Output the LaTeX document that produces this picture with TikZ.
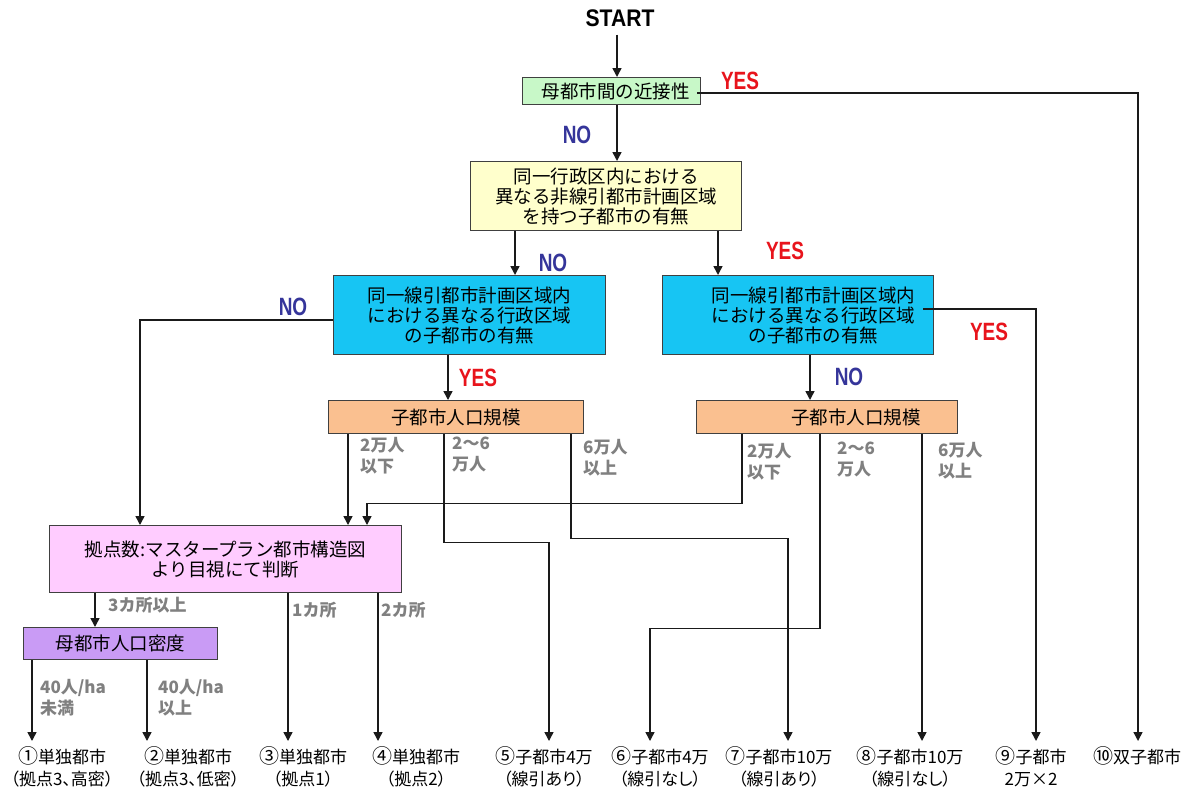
\documentclass[tikz,border=0pt]{standalone}
\usepackage{fontspec}
\usetikzlibrary{arrows.meta,calc}
\newfontfamily\jp{Noto Sans CJK JP}
\newfontfamily\jpp{Noto Sans CJK JP}[RawFeature=+palt]
\newfontfamily\cond{Liberation Sans}[FakeStretch=0.76]
\newfontfamily\startf{Liberation Sans}[FakeStretch=0.88]
\newcommand\circnum[1]{{\fontsize{20}{22}\selectfont #1}}
\definecolor{cgreen}{HTML}{C8F8C8}
\definecolor{cyellow}{HTML}{FFFFCC}
\definecolor{ccyan}{HTML}{17C5F3}
\definecolor{corange}{HTML}{FAC090}
\definecolor{cpink}{HTML}{FFCCFF}
\definecolor{cpurple}{HTML}{C99BF5}
\definecolor{boxline}{HTML}{404040}
\definecolor{lineblack}{HTML}{1A1A1A}
\definecolor{cred}{HTML}{E8141C}
\definecolor{cblue}{HTML}{35359A}
\definecolor{cgray}{HTML}{808080}
\begin{document}
\begin{tikzpicture}[x=1pt,y=-1pt,
  box/.style={draw=boxline, line width=1.3pt, anchor=north west, inner sep=0pt, align=center,
    font=\jp\fontsize{18.5}{20}\selectfont},
  arr/.style={draw=lineblack, line width=1.5pt, -{Triangle[width=9pt,length=9pt]}},
  yeslab/.style={font=\cond\bfseries\fontsize{25}{25}\selectfont, text=cred, inner sep=0pt},
  nolab/.style={font=\cond\bfseries\fontsize{25}{25}\selectfont, text=cblue, inner sep=0pt},
  gl/.style={font=\jp\bfseries\fontsize{17}{21}\selectfont, text=cgray, align=left, anchor=north west, inner sep=0pt},
  res/.style={font=\jpp\fontsize{17}{22}\selectfont, align=center, anchor=north, inner sep=0pt},
  startlab/.style={font=\startf\bfseries\fontsize{24}{24}\selectfont, inner sep=0pt}
]
\useasboundingbox[fill=white] (0,0) rectangle (1193,790);

% main boxes
\node[startlab] (st) at (620,18) {START};
\node[box, fill=cgreen, minimum width=178pt, minimum height=27pt] (g) at (522,77) {\hspace*{8pt}母都市間の近接性};
\node[box, fill=cyellow, minimum width=271pt, minimum height=69pt] (yb) at (470,161) {同一行政区内における\\異なる非線引都市計画区域\\を持つ子都市の有無};
\node[box, fill=ccyan, minimum width=272pt, minimum height=79pt] (bL) at (333,275) {同一線引都市計画区域内\\における異なる行政区域\\の子都市の有無};
\node[box, fill=ccyan, minimum width=271pt, minimum height=79pt] (bR) at (662,275) {\hspace*{31pt}同一線引都市計画区域内\\\hspace*{31pt}における異なる行政区域\\\hspace*{31pt}の子都市の有無};
\node[box, fill=corange, minimum width=255pt, minimum height=33pt] (oL) at (328,400) {子都市人口規模};
\node[box, fill=corange, minimum width=261pt, minimum height=33pt] (oR) at (696,400) {\hspace*{58pt}子都市人口規模};
\node[box, fill=cpink, minimum width=352pt, minimum height=67pt] (pk) at (49,525) {拠点数:マスタープラン都市構造図\\より目視にて判断};
\node[box, fill=cpurple, minimum width=194pt, minimum height=32pt] (pu) at (23,627) {母都市人口密度};

% results
\node[res] (r1) at (62,746) {\circnum{①}単独都市\\（拠点3、高密）};
\node[res] (r2) at (188,746) {\circnum{②}単独都市\\（拠点3、低密）};
\node[res] (r3) at (303,746) {\circnum{③}単独都市\\（拠点1）};
\node[res] (r4) at (416,746) {\circnum{④}単独都市\\（拠点2）};
\node[res] (r5) at (544,746) {\circnum{⑤}子都市4万\\（線引あり）};
\node[res] (r6) at (660,746) {\circnum{⑥}子都市4万\\（線引なし）};
\node[res] (r7) at (779,746) {\circnum{⑦}子都市10万\\（線引あり）};
\node[res] (r8) at (910,746) {\circnum{⑧}子都市10万\\（線引なし）};
\node[res] (r9) at (1031,746) {\circnum{⑨}子都市\\2万×2};
\node[res] (r10) at (1137,746) {\circnum{⑩}双子都市};

% arrow end points above results
\coordinate (e1) at (32,741);
\coordinate (e2) at (147,741);
\coordinate (e3) at (288,741);
\coordinate (e4) at (378,741);
\coordinate (e5) at (549,741);
\coordinate (e6) at (650,741);
\coordinate (e7) at (788,741);
\coordinate (e8) at (922,741);
\coordinate (e9) at (1036,741);
\coordinate (e10) at (1138,741);

% YES / NO labels
\node[yeslab] (y1) at (740,81) {YES};
\node[nolab] (n1) at (577,135) {NO};
\node[nolab] (n2) at (553,263) {NO};
\node[yeslab] (y2) at (785,251) {YES};
\node[nolab] (n3) at (293,307) {NO};
\node[yeslab] (y3) at (989,332) {YES};
\node[yeslab] (y4) at (478,378) {YES};
\node[nolab] (n4) at (849,377) {NO};

% gray branch labels
\node[gl] (l1) at (360,437) {2万人\\以下};
\node[gl] (l2) at (452,437) {2〜6\\万人};
\node[gl] (l3) at (583,439) {6万人\\以上};
\node[gl] (l4) at (747,443) {2万人\\以下};
\node[gl] (l5) at (837,442) {2〜6\\万人};
\node[gl] (l6) at (938,442) {6万人\\以上};
\node[gl] (l7) at (108,597) {3カ所以上};
\node[gl] (l8) at (292,602) {1カ所};
\node[gl] (l9) at (381,602) {2カ所};
\node[gl] (l10) at (40,679) {40人/ha\\未満};
\node[gl] (l11) at (158,679) {40人/ha\\以上};

% connectors
\draw[arr] ([xshift=-3pt,yshift=-8pt]st.south) -- ($(g.north west)+(95,0)$);
\draw[arr] ([xshift=95pt]g.south west) -- ([xshift=95pt]g.south west |- yb.north);
\draw[arr] ([xshift=-4pt,yshift=-2pt]g.east) -| (e10);
\draw[arr] ([xshift=45pt]yb.south west) -- ([xshift=45pt]yb.south west |- bL.north);
\draw[arr] ([xshift=248pt]yb.south west) -- ([xshift=248pt]yb.south west |- bR.north);
\draw[arr] ([yshift=-5pt]bL.west) -| ([xshift=91pt]pk.north west);
\draw[arr] ([xshift=-11pt,yshift=6pt]bR.east) -| (e9);
\draw[arr] ([xshift=115pt]bL.south west) -- ([xshift=115pt]bL.south west |- oL.north);
\draw[arr] ([xshift=148pt]bR.south west) -- ([xshift=148pt]bR.south west |- oR.north);
% left population branches
\draw[arr] ([xshift=20pt]oL.south west) -- ([xshift=20pt]oL.south west |- pk.north);
\draw[arr] ([xshift=116pt]oL.south west) -- ++(0,108) -| (e5);
\draw[arr] ([xshift=243pt]oL.south west) -- ++(0,104) -| (e7);
% right population branches
\draw[arr] ([xshift=46pt]oR.south west) -- ++(0,69) -| ([xshift=318pt]pk.north west);
\draw[arr] ([xshift=124pt]oR.south west) -- ++(0,194) -| (e6);
\draw[arr] ([xshift=226pt]oR.south west) -- (e8);
% base count branches
\draw[arr] ([xshift=46pt]pk.south west) -- ([xshift=46pt]pk.south west |- pu.north);
\draw[arr] ([xshift=239pt]pk.south west) -- (e3);
\draw[arr] ([xshift=329pt]pk.south west) -- (e4);
% density branches
\draw[arr] ([xshift=9pt]pu.south west) -- (e1);
\draw[arr] ([xshift=124pt]pu.south west) -- (e2);
\end{tikzpicture}
\end{document}
